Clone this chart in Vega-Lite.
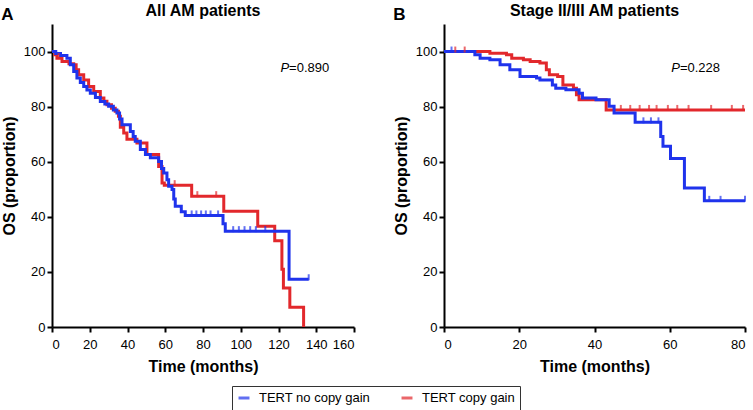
{
  "$schema": "https://vega.github.io/schema/vega-lite/v6.json",
  "padding": {"left": 1, "right": 0, "top": 3, "bottom": 1},
  "config": {
    "font": "Liberation Sans",
    "view": {"stroke": null},
    "axis": {
      "grid": false,
      "domainColor": "black",
      "domainWidth": 2,
      "tickColor": "black",
      "tickWidth": 2,
      "tickSize": 5,
      "labelFontSize": 13,
      "labelColor": "black",
      "labelFont": "Liberation Sans",
      "labelPadding": 2,
      "labelOverlap": false,
      "titleFont": "Liberation Sans",
      "titleFontSize": 16,
      "titleFontWeight": "bold",
      "titleColor": "black"
    },
    "axisX": {"labelPadding": 6, "titlePadding": 7},
    "axisY": {"titlePadding": 6},
    "title": {"font": "Liberation Sans", "color": "black", "fontWeight": "bold"}
  },
  "datasets": {
    "curvesA": [
      {"g": "TERT copy gain", "t": 0, "v": 100},
      {"g": "TERT copy gain", "t": 1.5, "v": 98.8},
      {"g": "TERT copy gain", "t": 2.6, "v": 97.6},
      {"g": "TERT copy gain", "t": 5.3, "v": 96.4},
      {"g": "TERT copy gain", "t": 9, "v": 95.6},
      {"g": "TERT copy gain", "t": 11.5, "v": 95.2},
      {"g": "TERT copy gain", "t": 12.8, "v": 93.4},
      {"g": "TERT copy gain", "t": 14.1, "v": 91.6},
      {"g": "TERT copy gain", "t": 16.8, "v": 89.7},
      {"g": "TERT copy gain", "t": 19.4, "v": 87.3},
      {"g": "TERT copy gain", "t": 22.1, "v": 85.5},
      {"g": "TERT copy gain", "t": 25.6, "v": 83.1},
      {"g": "TERT copy gain", "t": 27.5, "v": 82},
      {"g": "TERT copy gain", "t": 29.1, "v": 80.7},
      {"g": "TERT copy gain", "t": 31.5, "v": 79.4},
      {"g": "TERT copy gain", "t": 33.5, "v": 78.3},
      {"g": "TERT copy gain", "t": 35.2, "v": 76.5},
      {"g": "TERT copy gain", "t": 36.2, "v": 72.5},
      {"g": "TERT copy gain", "t": 38, "v": 70.4},
      {"g": "TERT copy gain", "t": 39.7, "v": 68.2},
      {"g": "TERT copy gain", "t": 45, "v": 66.8},
      {"g": "TERT copy gain", "t": 50.3, "v": 62.6},
      {"g": "TERT copy gain", "t": 56.5, "v": 58.3},
      {"g": "TERT copy gain", "t": 58.3, "v": 52.3},
      {"g": "TERT copy gain", "t": 59.5, "v": 51.5},
      {"g": "TERT copy gain", "t": 74, "v": 47.5},
      {"g": "TERT copy gain", "t": 91, "v": 42},
      {"g": "TERT copy gain", "t": 109, "v": 36.6},
      {"g": "TERT copy gain", "t": 118, "v": 31.3},
      {"g": "TERT copy gain", "t": 121.8, "v": 21},
      {"g": "TERT copy gain", "t": 122.6, "v": 14.2},
      {"g": "TERT copy gain", "t": 126, "v": 7.2},
      {"g": "TERT copy gain", "t": 133.3, "v": 0},
      {"g": "TERT no copy gain", "t": 0, "v": 100},
      {"g": "TERT no copy gain", "t": 2, "v": 99.3},
      {"g": "TERT no copy gain", "t": 4.5, "v": 98.6},
      {"g": "TERT no copy gain", "t": 7.9, "v": 97.6},
      {"g": "TERT no copy gain", "t": 9.7, "v": 95.2},
      {"g": "TERT no copy gain", "t": 11.5, "v": 92.8},
      {"g": "TERT no copy gain", "t": 13.2, "v": 90.4},
      {"g": "TERT no copy gain", "t": 15, "v": 88.8},
      {"g": "TERT no copy gain", "t": 16.8, "v": 87.3},
      {"g": "TERT no copy gain", "t": 18.5, "v": 86},
      {"g": "TERT no copy gain", "t": 20.3, "v": 84.9},
      {"g": "TERT no copy gain", "t": 23, "v": 83.3},
      {"g": "TERT no copy gain", "t": 25.6, "v": 81.9},
      {"g": "TERT no copy gain", "t": 28, "v": 81},
      {"g": "TERT no copy gain", "t": 30, "v": 80.1},
      {"g": "TERT no copy gain", "t": 32.5, "v": 78.8},
      {"g": "TERT no copy gain", "t": 34.4, "v": 77.7},
      {"g": "TERT no copy gain", "t": 35.8, "v": 75.5},
      {"g": "TERT no copy gain", "t": 37.1, "v": 73.4},
      {"g": "TERT no copy gain", "t": 41.5, "v": 71},
      {"g": "TERT no copy gain", "t": 43, "v": 69.2},
      {"g": "TERT no copy gain", "t": 44.1, "v": 67.4},
      {"g": "TERT no copy gain", "t": 46.8, "v": 64.4},
      {"g": "TERT no copy gain", "t": 49.5, "v": 62.6},
      {"g": "TERT no copy gain", "t": 52.1, "v": 61.4},
      {"g": "TERT no copy gain", "t": 56.5, "v": 60.1},
      {"g": "TERT no copy gain", "t": 58, "v": 57.5},
      {"g": "TERT no copy gain", "t": 59.2, "v": 55.9},
      {"g": "TERT no copy gain", "t": 60.9, "v": 53.5},
      {"g": "TERT no copy gain", "t": 61.8, "v": 51.1},
      {"g": "TERT no copy gain", "t": 63.6, "v": 49.9},
      {"g": "TERT no copy gain", "t": 64.5, "v": 46.5},
      {"g": "TERT no copy gain", "t": 65.3, "v": 43.8},
      {"g": "TERT no copy gain", "t": 68.5, "v": 41.8},
      {"g": "TERT no copy gain", "t": 70.6, "v": 40.5},
      {"g": "TERT no copy gain", "t": 90.6, "v": 37.5},
      {"g": "TERT no copy gain", "t": 91.8, "v": 34.8},
      {"g": "TERT no copy gain", "t": 125.6, "v": 17.3},
      {"g": "TERT no copy gain", "t": 136, "v": 17.3}
    ],
    "censA": [
      {"g": "TERT copy gain", "t": 3.5, "v": 97.6},
      {"g": "TERT copy gain", "t": 65, "v": 51.5},
      {"g": "TERT copy gain", "t": 77, "v": 47.5},
      {"g": "TERT copy gain", "t": 87, "v": 47.5},
      {"g": "TERT no copy gain", "t": 74, "v": 40.5},
      {"g": "TERT no copy gain", "t": 76.5, "v": 40.5},
      {"g": "TERT no copy gain", "t": 79, "v": 40.5},
      {"g": "TERT no copy gain", "t": 81.5, "v": 40.5},
      {"g": "TERT no copy gain", "t": 84, "v": 40.5},
      {"g": "TERT no copy gain", "t": 88, "v": 40.5},
      {"g": "TERT no copy gain", "t": 96, "v": 34.8},
      {"g": "TERT no copy gain", "t": 99, "v": 34.8},
      {"g": "TERT no copy gain", "t": 102, "v": 34.8},
      {"g": "TERT no copy gain", "t": 105, "v": 34.8},
      {"g": "TERT no copy gain", "t": 108, "v": 34.8},
      {"g": "TERT no copy gain", "t": 113, "v": 34.8},
      {"g": "TERT no copy gain", "t": 136, "v": 17.3}
    ],
    "curvesB": [
      {"g": "TERT copy gain", "t": 0, "v": 100},
      {"g": "TERT copy gain", "t": 12.2, "v": 99.4},
      {"g": "TERT copy gain", "t": 16.6, "v": 98.8},
      {"g": "TERT copy gain", "t": 18, "v": 97.6},
      {"g": "TERT copy gain", "t": 21.1, "v": 97},
      {"g": "TERT copy gain", "t": 22.9, "v": 96.4},
      {"g": "TERT copy gain", "t": 25.5, "v": 95.8},
      {"g": "TERT copy gain", "t": 27.2, "v": 93.4},
      {"g": "TERT copy gain", "t": 28, "v": 91.6},
      {"g": "TERT copy gain", "t": 30.2, "v": 90.9},
      {"g": "TERT copy gain", "t": 31.6, "v": 87.9},
      {"g": "TERT copy gain", "t": 34.4, "v": 86.7},
      {"g": "TERT copy gain", "t": 35.2, "v": 84.3},
      {"g": "TERT copy gain", "t": 35.9, "v": 82.5},
      {"g": "TERT copy gain", "t": 43.1, "v": 78.8},
      {"g": "TERT copy gain", "t": 80, "v": 78.8},
      {"g": "TERT no copy gain", "t": 0, "v": 100},
      {"g": "TERT no copy gain", "t": 8.2, "v": 98.8},
      {"g": "TERT no copy gain", "t": 9.6, "v": 97.6},
      {"g": "TERT no copy gain", "t": 12.2, "v": 97},
      {"g": "TERT no copy gain", "t": 14.9, "v": 95.2},
      {"g": "TERT no copy gain", "t": 17.5, "v": 93.4},
      {"g": "TERT no copy gain", "t": 20.2, "v": 90.9},
      {"g": "TERT no copy gain", "t": 24.6, "v": 90.4},
      {"g": "TERT no copy gain", "t": 25.5, "v": 89.7},
      {"g": "TERT no copy gain", "t": 28.8, "v": 87.9},
      {"g": "TERT no copy gain", "t": 29.7, "v": 86.7},
      {"g": "TERT no copy gain", "t": 32.4, "v": 86.1},
      {"g": "TERT no copy gain", "t": 35.9, "v": 84.9},
      {"g": "TERT no copy gain", "t": 36.8, "v": 83.1},
      {"g": "TERT no copy gain", "t": 40.4, "v": 82.5},
      {"g": "TERT no copy gain", "t": 43.9, "v": 80.1},
      {"g": "TERT no copy gain", "t": 45.2, "v": 77.7},
      {"g": "TERT no copy gain", "t": 50.8, "v": 74.3},
      {"g": "TERT no copy gain", "t": 57.6, "v": 69.2},
      {"g": "TERT no copy gain", "t": 58.2, "v": 65.6},
      {"g": "TERT no copy gain", "t": 60.2, "v": 61.2},
      {"g": "TERT no copy gain", "t": 63.9, "v": 50.5},
      {"g": "TERT no copy gain", "t": 69.2, "v": 45.8},
      {"g": "TERT no copy gain", "t": 80, "v": 45.8}
    ],
    "censB": [
      {"g": "TERT copy gain", "t": 3, "v": 100},
      {"g": "TERT copy gain", "t": 5.5, "v": 100},
      {"g": "TERT copy gain", "t": 47, "v": 78.8},
      {"g": "TERT copy gain", "t": 49.5, "v": 78.8},
      {"g": "TERT copy gain", "t": 52, "v": 78.8},
      {"g": "TERT copy gain", "t": 54.5, "v": 78.8},
      {"g": "TERT copy gain", "t": 56.5, "v": 78.8},
      {"g": "TERT copy gain", "t": 59.5, "v": 78.8},
      {"g": "TERT copy gain", "t": 62, "v": 78.8},
      {"g": "TERT copy gain", "t": 65, "v": 78.8},
      {"g": "TERT copy gain", "t": 71, "v": 78.8},
      {"g": "TERT copy gain", "t": 76.5, "v": 78.8},
      {"g": "TERT copy gain", "t": 79.5, "v": 78.8},
      {"g": "TERT no copy gain", "t": 2, "v": 100},
      {"g": "TERT no copy gain", "t": 53, "v": 74.3},
      {"g": "TERT no copy gain", "t": 55, "v": 74.3},
      {"g": "TERT no copy gain", "t": 57, "v": 74.3},
      {"g": "TERT no copy gain", "t": 70.5, "v": 45.8},
      {"g": "TERT no copy gain", "t": 73.5, "v": 45.8},
      {"g": "TERT no copy gain", "t": 80, "v": 45.8}
    ],
    "pA": [{"t": 125.6, "v": 94, "p": "P", "val": "=0.890"}],
    "pB": [{"t": 62.7, "v": 94, "p": "P", "val": "=0.228"}]
  },
  "spacing": 38,
  "resolve": {"scale": {"color": "shared"}, "legend": {"color": "shared"}},
  "hconcat": [
    {
      "title": {"text": "A", "anchor": "start", "frame": "bounds", "fontSize": 17, "offset": -21},
      "vconcat": [
        {
          "title": {"text": "All AM patients", "anchor": "middle", "fontSize": 16, "offset": 5},
          "width": 302,
          "height": 303,
          "encoding": {
            "x": {"field": "t", "type": "quantitative", "scale": {"domain": [0, 160], "nice": false}, "axis": {"values": [0, 20, 40, 60, 80, 100, 120, 140, 160], "tickCount": 9, "labelOverlap": false, "title": "Time (months)"}},
            "y": {"field": "v", "type": "quantitative", "scale": {"domain": [0, 110], "nice": false}, "axis": {"values": [0, 20, 40, 60, 80, 100], "title": "OS (proportion)"}}
          },
          "layer": [
            {
              "data": {"name": "curvesA"},
              "mark": {"type": "line", "interpolate": "step-after", "strokeWidth": 3},
              "encoding": {
                "color": {"field": "g", "type": "nominal", "scale": {"domain": ["TERT no copy gain", "TERT copy gain"], "range": ["#1f33ec", "#e2282c"]},
                  "legend": {"orient": "none", "legendX": 180, "legendY": 362, "direction": "horizontal", "title": null, "symbolType": "stroke", "symbolStrokeWidth": 3, "symbolSize": 120, "labelFontSize": 13, "labelFont": "Liberation Sans", "labelColor": "black", "strokeColor": "#333333", "padding": 5, "columnPadding": 24, "labelOffset": 8}},
                "order": {"field": "t", "type": "quantitative"}
              }
            },
            {
              "data": {"name": "censA"},
              "mark": {"type": "tick", "orient": "vertical", "size": 6, "thickness": 2, "yOffset": -2},
              "encoding": {"color": {"field": "g", "type": "nominal"}}
            },
            {
              "data": {"name": "pA"},
              "mark": {"type": "text", "align": "right", "baseline": "middle", "fontSize": 13, "fontStyle": "italic", "color": "black"},
              "encoding": {"text": {"field": "p"}}
            },
            {
              "data": {"name": "pA"},
              "mark": {"type": "text", "align": "left", "baseline": "middle", "fontSize": 13, "color": "black"},
              "encoding": {"text": {"field": "val"}}
            }
          ]
        }
      ]
    },
    {
      "title": {"text": "B", "anchor": "start", "frame": "bounds", "fontSize": 17, "offset": -21},
      "vconcat": [
        {
          "title": {"text": "Stage II/III AM patients", "anchor": "middle", "fontSize": 16, "offset": 5},
          "width": 301,
          "height": 303,
          "encoding": {
            "x": {"field": "t", "type": "quantitative", "scale": {"domain": [0, 80], "nice": false}, "axis": {"values": [0, 20, 40, 60, 80], "title": "Time (months)"}},
            "y": {"field": "v", "type": "quantitative", "scale": {"domain": [0, 110], "nice": false}, "axis": {"values": [0, 20, 40, 60, 80, 100], "title": "OS (proportion)"}}
          },
          "layer": [
            {
              "data": {"name": "curvesB"},
              "mark": {"type": "line", "interpolate": "step-after", "strokeWidth": 3},
              "encoding": {
                "color": {"field": "g", "type": "nominal"},
                "order": {"field": "t", "type": "quantitative"}
              }
            },
            {
              "data": {"name": "censB"},
              "mark": {"type": "tick", "orient": "vertical", "size": 6, "thickness": 2, "yOffset": -2},
              "encoding": {"color": {"field": "g", "type": "nominal"}}
            },
            {
              "data": {"name": "pB"},
              "mark": {"type": "text", "align": "right", "baseline": "middle", "fontSize": 13, "fontStyle": "italic", "color": "black"},
              "encoding": {"text": {"field": "p"}}
            },
            {
              "data": {"name": "pB"},
              "mark": {"type": "text", "align": "left", "baseline": "middle", "fontSize": 13, "color": "black"},
              "encoding": {"text": {"field": "val"}}
            }
          ]
        }
      ]
    }
  ]
}
